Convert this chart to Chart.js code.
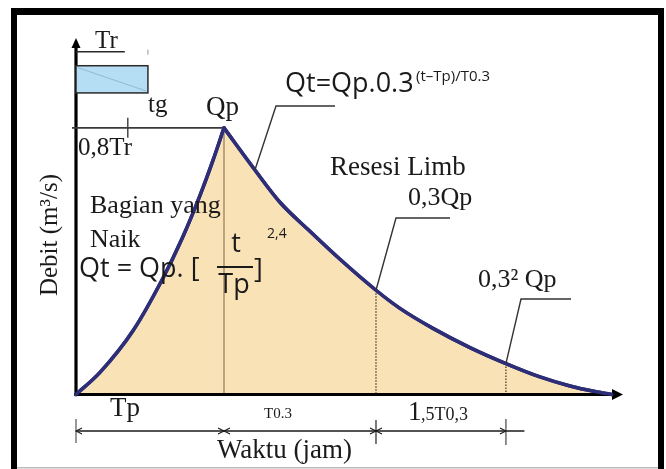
<!DOCTYPE html>
<html><head><meta charset="utf-8">
<script src="https://cdn.jsdelivr.net/npm/chart.js@4/dist/chart.umd.min.js"></script>
<style>html,body{margin:0;padding:0;background:#fff;}canvas{display:block;}</style>
</head><body>
<canvas id="c" width="666" height="469"></canvas>
<script>
// Time in units of Tp, discharge in units of Qp
const riseTimes = [0, 0.162, 0.385, 0.588, 0.716, 0.838, 0.926, 1.0];
const riseFlows = [0, 0.083, 0.239, 0.437, 0.584, 0.747, 0.879, 1.0];
const fallTimes = [1.0, 1.209, 1.378, 1.581, 1.784, 2.027, 2.189, 2.412, 2.662, 2.905, 3.135, 3.338, 3.507, 3.62];
const fallFlows = [1.0, 0.842, 0.721, 0.612, 0.507, 0.391, 0.323, 0.248, 0.176, 0.116, 0.066, 0.032, 0.011, 0];
const keyTimes = [1.0, 2.027, 2.905];          // Tp, Tp+T0.3, Tp+T0.3+1.5T0.3
const keyFlows = [1.0, 0.391, 0.116];          // Qp, 0.3Qp, 0.3^2 Qp
const rainTimes = [0, 0.486];                  // Tr block
const rainDepths = [1.131, 1.233];
const tgTime = 0.35;                           // 0,8Tr mark
const axisMax = [3.696, 1.337];

const risePoints = riseTimes.map((t, i) => ({x: t, y: riseFlows[i]}));
const fallPoints = fallTimes.map((t, i) => ({x: t, y: fallFlows[i]}));

const SERIF = '"Liberation Serif", "Times New Roman", serif';
const SANS = '"Open Sans", "Liberation Sans", sans-serif';
const CURVE = '#2e2e78';
const FILL = 'rgb(248,226,182)';

function text(ctx, s, x, y, size, family, opts = {}) {
  ctx.save();
  ctx.font = size + 'px ' + family;
  ctx.fillStyle = opts.color || '#1a1a1a';
  ctx.textAlign = opts.align || 'left';
  ctx.textBaseline = 'alphabetic';
  ctx.fillText(s, x, y);
  ctx.restore();
}
function line(ctx, pts, color, w, dash) {
  ctx.save();
  ctx.strokeStyle = color; ctx.lineWidth = w;
  if (dash) ctx.setLineDash(dash);
  ctx.beginPath();
  ctx.moveTo(pts[0][0], pts[0][1]);
  for (let i = 1; i < pts.length; i++) ctx.lineTo(pts[i][0], pts[i][1]);
  ctx.stroke();
  ctx.restore();
}
function tri(ctx, pts, color) {
  ctx.save(); ctx.fillStyle = color; ctx.beginPath();
  ctx.moveTo(pts[0][0], pts[0][1]); ctx.lineTo(pts[1][0], pts[1][1]); ctx.lineTo(pts[2][0], pts[2][1]);
  ctx.closePath(); ctx.fill(); ctx.restore();
}

const bgPlugin = {
  id: 'bg',
  beforeDraw(chart) {
    const ctx = chart.ctx;
    ctx.save(); ctx.fillStyle = '#fff'; ctx.fillRect(0, 0, chart.width, chart.height); ctx.restore();
  }
};

const diagram = {
  id: 'diagram',
  afterDatasetsDraw(chart) {
    const ctx = chart.ctx;
    const xs = chart.scales.x, ys = chart.scales.y;
    const X = v => xs.getPixelForValue(v), Y = v => ys.getPixelForValue(v);
    const x0 = X(0), y0 = Y(0), xp = X(keyTimes[0]), yp = Y(keyFlows[0]);
    const area = chart.chartArea;

    // vertical at Tp
    line(ctx, [[xp, yp + 3], [xp, y0]], '#a88f6c', 1.5);
    // dotted verticals at 0.3Qp and 0.3^2Qp
    line(ctx, [[X(keyTimes[1]), Y(keyFlows[1])], [X(keyTimes[1]), y0]], '#3a3020', 1.2, [1.5, 1.5]);
    line(ctx, [[X(keyTimes[2]), Y(keyFlows[2])], [X(keyTimes[2]), y0]], '#3a3020', 1.2, [1.5, 1.5]);

    // axes
    line(ctx, [[x0, y0 + 1.5], [x0, area.top + 6]], '#000', 3.2);
    tri(ctx, [[x0, area.top], [x0 - 4.5, area.top + 10], [x0 + 4.5, area.top + 10]], '#000');
    line(ctx, [[x0 - 1.5, y0], [area.right - 8, y0]], '#000', 3.2);
    tri(ctx, [[area.right, y0], [area.right - 11, y0 - 5.5], [area.right - 11, y0 + 5.5]], '#000');
    // curve back on top of axes
    chart.getSortedVisibleDatasetMetas().forEach(m => m.dataset.draw(ctx, area));

    // Qp horizontal and 0,8Tr tick
    line(ctx, [[x0 - 4, yp], [xp - 2, yp]], '#3a3a3a', 1.6);
    line(ctx, [[X(tgTime), yp - 10], [X(tgTime), yp + 10]], '#3a3a3a', 1.4);

    // rainfall block
    const rx0 = X(rainTimes[0]), rx1 = X(rainTimes[1]), ry0 = Y(rainDepths[1]), ry1 = Y(rainDepths[0]);
    ctx.save();
    ctx.fillStyle = '#b5ddf3';
    ctx.fillRect(rx0, ry0, rx1 - rx0, ry1 - ry0);
    ctx.strokeStyle = '#2a2a2a'; ctx.lineWidth = 1.5;
    ctx.strokeRect(rx0, ry0, rx1 - rx0, ry1 - ry0);
    ctx.restore();
    line(ctx, [[rx0 + 2, ry0 + 2], [rx1 - 2, ry1 - 2]], 'rgba(110,150,180,0.5)', 1);
    // Tr underline and small tick
    line(ctx, [[x0, ry0 - 14], [X(0.33), ry0 - 14]], '#2a2a2a', 1.3);
    line(ctx, [[rx1, ry0 - 16], [rx1, ry0 - 11]], '#999', 1);

    // texts
    text(ctx, 'Tr', 95, 48, 25, SERIF);
    text(ctx, 'tg', 148, 112, 25, SERIF);
    text(ctx, 'Qp', 206, 115, 27, SERIF);
    text(ctx, '0,8Tr', 78, 155, 25, SERIF);
    text(ctx, 'Qt=Qp.0.3', 285, 92, 27, SANS);
    text(ctx, '(t\u2013Tp)/T0.3', 416, 81, 15, SANS);
    text(ctx, 'Resesi Limb', 330, 175, 27, SERIF);
    text(ctx, '0,3Qp', 408, 205, 26, SERIF);
    text(ctx, 'Bagian yang', 90, 213, 26, SERIF);
    text(ctx, 'Naik', 90, 247, 26, SERIF);
    text(ctx, 'Qt = Qp. [', 79, 277, 27, SANS);
    text(ctx, 't', 236, 252, 27, SANS, {align: 'center'});
    line(ctx, [[217, 267], [253, 267]], '#1a1a1a', 2);
    text(ctx, 'Tp', 234, 293, 27, SANS, {align: 'center'});
    text(ctx, ']', 254, 278, 27, SANS);
    text(ctx, '2,4', 267, 238, 14, SANS);
    text(ctx, '0,3\u00b2 Qp', 478, 287, 26, SERIF);

    // leader lines
    line(ctx, [[335, 106], [276, 106], [X(fallTimes[1]), Y(fallFlows[1])]], '#333', 1.4);
    line(ctx, [[450, 218], [396, 218], [X(keyTimes[1]), Y(keyFlows[1])]], '#333', 1.4);
    line(ctx, [[571, 299], [521, 299], [X(keyTimes[2]), Y(keyFlows[2])]], '#333', 1.4);

    // below axis labels
    text(ctx, 'Tp', 110, 416, 27, SERIF);
    text(ctx, 'T0.3', 264, 418, 15, SERIF);
    text(ctx, '1', 408, 420, 27, SERIF);
    text(ctx, ',5T0,3', 421, 420, 18, SERIF);
    text(ctx, 'Waktu (jam)', 217, 458, 27, SERIF);

    // dimension line
    const dy = 431;
    line(ctx, [[x0, dy], [X(3.03), dy]], '#1a1a1a', 1.3);
    line(ctx, [[x0, dy - 12], [x0, dy + 12]], '#777', 1.5);
    line(ctx, [[X(keyTimes[1]), dy - 11], [X(keyTimes[1]), dy + 13]], '#333', 1.3);
    line(ctx, [[X(keyTimes[2]), dy - 12], [X(keyTimes[2]), dy + 14]], '#555', 1.3);
    const mk = (x, dir) => { line(ctx, [[x + dir * 6, dy - 3], [x, dy], [x + dir * 6, dy + 3]], '#1a1a1a', 1.1); };
    mk(x0, 1); mk(xp, -1); mk(xp, 1); mk(X(keyTimes[1]), -1); mk(X(keyTimes[1]), 1); mk(X(keyTimes[2]), -1);

    // y axis title
    ctx.save();
    ctx.translate(57, 235);
    ctx.rotate(-Math.PI / 2);
    ctx.font = '25px ' + SERIF;
    ctx.fillStyle = '#1a1a1a';
    ctx.textAlign = 'center';
    ctx.fillText('Debit (m\u00b3/s)', 0, 0);
    ctx.restore();
  },
  afterDraw(chart) {
    const ctx = chart.ctx;
    ctx.save();
    ctx.fillStyle = '#000';
    ctx.fillRect(11, 8, 6, 461);      // left
    ctx.fillRect(11, 8, 653, 7);      // top
    ctx.fillRect(658, 8, 6, 461);     // right
    ctx.fillStyle = '#bbb';
    ctx.fillRect(17, 467, 641, 1.5);  // bottom
    ctx.restore();
  }
};

const common = {
  borderColor: CURVE,
  borderWidth: 3.5,
  backgroundColor: FILL,
  fill: 'origin',
  pointRadius: 0,
  cubicInterpolationMode: 'monotone',
  borderCapStyle: 'round',
  borderJoinStyle: 'round',
  clip: 10
};

new Chart(document.getElementById('c'), {
  type: 'line',
  data: {
    datasets: [
      Object.assign({label: 'Bagian yang Naik', data: risePoints}, common),
      Object.assign({label: 'Resesi Limb', data: fallPoints}, common)
    ]
  },
  options: {
    responsive: false,
    animation: false,
    devicePixelRatio: 1,
    layout: { padding: { left: 76, right: 43, top: 38, bottom: 74.5 } },
    plugins: { legend: { display: false }, tooltip: { enabled: false }, title: { display: false } },
    scales: {
      x: { type: 'linear', min: 0, max: axisMax[0], display: false },
      y: { type: 'linear', min: 0, max: axisMax[1], display: false }
    }
  },
  plugins: [bgPlugin, diagram]
});
</script>
</body></html>
